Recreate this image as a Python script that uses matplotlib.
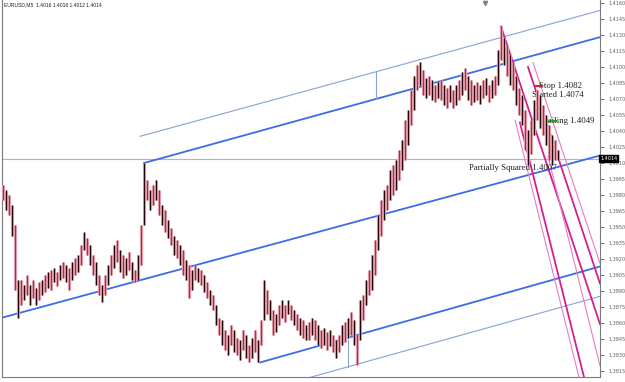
import matplotlib
matplotlib.use("Agg")
import matplotlib.pyplot as plt
import numpy as np

# EURUSD M5 bars (one entry every ~3 px)
highs = [1.3989, 1.3985, 1.3980, 1.3971, 1.3952, 1.3900, 1.3900, 1.3896, 1.3905, 1.3896,
         1.3900, 1.3893, 1.3898, 1.3900, 1.3905, 1.3908, 1.3910, 1.3912, 1.3908, 1.3914,
         1.3917, 1.3914, 1.3912, 1.3917, 1.3921, 1.3924, 1.3933, 1.3945, 1.3940, 1.3933,
         1.3924, 1.3917, 1.3905, 1.3896, 1.3905, 1.3914, 1.3924, 1.3933, 1.3938, 1.3928,
         1.3924, 1.3921, 1.3927, 1.3917, 1.3910, 1.3924, 1.3952, 1.4010, 1.3994, 1.3985,
         1.3989, 1.3994, 1.3985, 1.3971, 1.3966, 1.3957, 1.3949, 1.3942, 1.3938, 1.3933,
         1.3928, 1.3919, 1.3914, 1.3910, 1.3914, 1.3912, 1.3910, 1.3905, 1.3898, 1.3891,
         1.3886, 1.3877, 1.3865, 1.3863, 1.3853, 1.3849, 1.3858, 1.3853, 1.3846, 1.3844,
         1.3853, 1.3849, 1.3839, 1.3846, 1.3853, 1.3844, 1.3863, 1.3900, 1.3891, 1.3882,
         1.3872, 1.3868, 1.3877, 1.3882, 1.3877, 1.3882, 1.3877, 1.3872, 1.3868, 1.3865,
         1.3863, 1.3858, 1.3861, 1.3865, 1.3863, 1.3858, 1.3853, 1.3855, 1.3852, 1.3853,
         1.3849, 1.3844, 1.3849, 1.3858, 1.3861, 1.3865, 1.3870, 1.3863, 1.3849, 1.3882,
         1.3886, 1.3900, 1.3910, 1.3924, 1.3938, 1.3961, 1.3975, 1.3985, 1.3989, 1.4003,
         1.4008, 1.4013, 1.4022, 1.4032, 1.4050, 1.4060, 1.4078, 1.4092, 1.4102, 1.4105,
         1.4097, 1.4090, 1.4092, 1.4088, 1.4083, 1.4086, 1.4088, 1.4083, 1.4080, 1.4083,
         1.4078, 1.4083, 1.4088, 1.4095, 1.4099, 1.4092, 1.4088, 1.4083, 1.4086, 1.4083,
         1.4088, 1.4090, 1.4083, 1.4088, 1.4092, 1.4116, 1.4138, 1.4127, 1.4121, 1.4111,
         1.4105, 1.4092, 1.4080, 1.4074, 1.4060, 1.4041, 1.4050, 1.4069, 1.4078, 1.4074,
         1.4064, 1.4055, 1.4046, 1.4036, 1.4032, 1.4022]
lows = [1.3975, 1.3966, 1.3961, 1.3942, 1.3891, 1.3865, 1.3877, 1.3882, 1.3886, 1.3877,
        1.3883, 1.3877, 1.3882, 1.3886, 1.3889, 1.3893, 1.3891, 1.3898, 1.3895, 1.3900,
        1.3902, 1.3898, 1.3891, 1.3900, 1.3905, 1.3908, 1.3914, 1.3928, 1.3924, 1.3914,
        1.3905, 1.3896, 1.3886, 1.3880, 1.3886, 1.3896, 1.3905, 1.3912, 1.3917, 1.3908,
        1.3902, 1.3905, 1.3910, 1.3900, 1.3898, 1.3900, 1.3914, 1.3952, 1.3975, 1.3966,
        1.3971, 1.3975, 1.3961, 1.3952, 1.3945, 1.3940, 1.3933, 1.3924, 1.3921, 1.3914,
        1.3905, 1.3900, 1.3883, 1.3891, 1.3900, 1.3898, 1.3896, 1.3889, 1.3883, 1.3877,
        1.3872, 1.3858, 1.3849, 1.3839, 1.3835, 1.3830, 1.3839, 1.3833, 1.3830, 1.3825,
        1.3835, 1.3827, 1.3823, 1.3827, 1.3833, 1.3823, 1.3839, 1.3863, 1.3868, 1.3863,
        1.3849, 1.3852, 1.3858, 1.3865, 1.3861, 1.3868, 1.3863, 1.3858, 1.3853, 1.3849,
        1.3846, 1.3844, 1.3844, 1.3849, 1.3844, 1.3839, 1.3837, 1.3839, 1.3835, 1.3838,
        1.3833, 1.3827, 1.3833, 1.3839, 1.3842, 1.3846, 1.3849, 1.3839, 1.3821, 1.3844,
        1.3863, 1.3877, 1.3886, 1.3891, 1.3905, 1.3928, 1.3942, 1.3957, 1.3966, 1.3975,
        1.3980, 1.3985, 1.3994, 1.4003, 1.4013, 1.4027, 1.4046, 1.4060, 1.4078, 1.4083,
        1.4074, 1.4071, 1.4074, 1.4069, 1.4067, 1.4071, 1.4069, 1.4064, 1.4062, 1.4067,
        1.4062, 1.4064, 1.4069, 1.4074, 1.4078, 1.4069, 1.4064, 1.4067, 1.4069, 1.4065,
        1.4071, 1.4074, 1.4067, 1.4071, 1.4074, 1.4083, 1.4107, 1.4102, 1.4092, 1.4083,
        1.4078, 1.4064, 1.4055, 1.4046, 1.4022, 1.4008, 1.4018, 1.4036, 1.4050, 1.4043,
        1.4036, 1.4027, 1.4013, 1.4008, 1.4013, 1.4013]

title = "EURUSD,M5  1.4016 1.4018 1.4012 1.4014"
last_price = 1.4014
price_ticks = [1.4160, 1.4145, 1.4130, 1.4115, 1.4100, 1.4085, 1.4070, 1.4055,
               1.4040, 1.4025, 1.4010, 1.3995, 1.3980, 1.3965, 1.3950, 1.3935,
               1.3920, 1.3905, 1.3890, 1.3875, 1.3860, 1.3845, 1.3830, 1.3815]

# up-channel (bar index, price) end points
blue_x = [[47, 199], [-0.33, 199], [85.67, 199]]
blue_y = [[1.4010, 1.4128], [1.3865, 1.4017], [1.3823, 1.3913]]
thin_x = [[45.67, 199], [102.33, 199], [124.33, 124.33], [115, 115]]
thin_y = [[1.4035, 1.4153], [1.3809, 1.3885], [1.4095, 1.4070], [1.3844, 1.3819]]

# down pitchfork
pink_thick_x = [[166, 199], [175, 199], [172.3, 193.7]]
pink_thick_y = [[1.4138, 1.3859], [1.4100, 1.3897], [1.4048, 1.3809]]
pink_thin_x = [[176.7, 199], [170.7, 192], [181.7, 199]]
pink_thin_y = [[1.4104, 1.3916], [1.4050, 1.3809], [1.4016, 1.3820]]

# trade notes
notes = ["Stop 1.4082", "Started 1.4074", "Trailing 1.4049", "Partially Squared 1.4007"]
note_x = [178.7, 176.3, 179.0, 155.3]
note_y = [1.4082, 1.4074, 1.4049, 1.4005]

fig = plt.figure(figsize=(6.25, 3.82), dpi=100)
ax = fig.add_axes([2 / 625, 5 / 382, 598 / 625, 377 / 382])
ax.set_xlim(-0.33, 199)
ax.set_ylim(1.38094, 1.41628)

ax.axhline(last_price, color='#a9b6c9', lw=0.8, zorder=1)

for xs, ys in zip(blue_x, blue_y):
    ax.plot(xs, ys, color='#3b6de6', lw=1.3, zorder=2)
for xs, ys in zip(thin_x, thin_y):
    ax.plot(xs, ys, color='#86a3d6', lw=0.8, zorder=2)
for xs, ys in zip(pink_thick_x, pink_thick_y):
    ax.plot(xs, ys, color='#d4208e', lw=1.3, zorder=2)
for xs, ys in zip(pink_thin_x, pink_thin_y):
    ax.plot(xs, ys, color='#e67cc0', lw=0.8, zorder=2)

# notes sit under the candles like in the terminal
for t, x, y in zip(notes, note_x, note_y):
    ax.text(x, y, t, fontsize=6.3, family='Liberation Serif', color='#202020',
            va='center', ha='left', zorder=3)
ax.plot([177.7, 179.5], [1.4082, 1.4082], color='#e02020', lw=1.5, zorder=3)
ax.plot([182.0, 184.3], [1.4049, 1.4049], color='#20a020', lw=1.5, zorder=3)

# candles: pink halo, then red / black cores alternating
bars = np.arange(len(highs))
hi = np.array(highs)
lo = np.array(lows)
red = bars % 2 == 0
ax.vlines(bars, lo, hi, colors='#e9a9b6', lw=2.3, zorder=4)
ax.vlines(bars[red], lo[red], hi[red], colors='#b42a40', lw=0.9, zorder=5)
ax.vlines(bars[~red], lo[~red], hi[~red], colors='#240509', lw=0.9, zorder=5)

# y axis on the right, terminal style
ax.yaxis.tick_right()
ax.set_yticks(price_ticks)
ax.set_yticklabels([f"{p:.4f}" for p in price_ticks])
ax.tick_params(axis='y', direction='out', length=3, width=0.6, pad=3,
               labelsize=3.5, colors='#606060')
ax.set_xticks([])
for s in ['left', 'right', 'bottom']:
    ax.spines[s].set_color('#7a7a7a')
    ax.spines[s].set_linewidth(0.8)
ax.spines['top'].set_visible(False)

ax.text(1.0, last_price, f"{last_price:.4f}", transform=ax.get_yaxis_transform(),
        fontsize=3.5, color='white', va='center', ha='left', zorder=6,
        bbox=dict(boxstyle='square,pad=0.25', fc='black', ec='black'))
ax.text(0.003, 0.995, title, transform=ax.transAxes, fontsize=3.6,
        family='Liberation Sans', color='#202020', va='top', ha='left')
ax.plot([160.67], [1.41600], marker='v', color='#808080', markersize=3, clip_on=False)

fig.savefig("out.png", dpi=100)
